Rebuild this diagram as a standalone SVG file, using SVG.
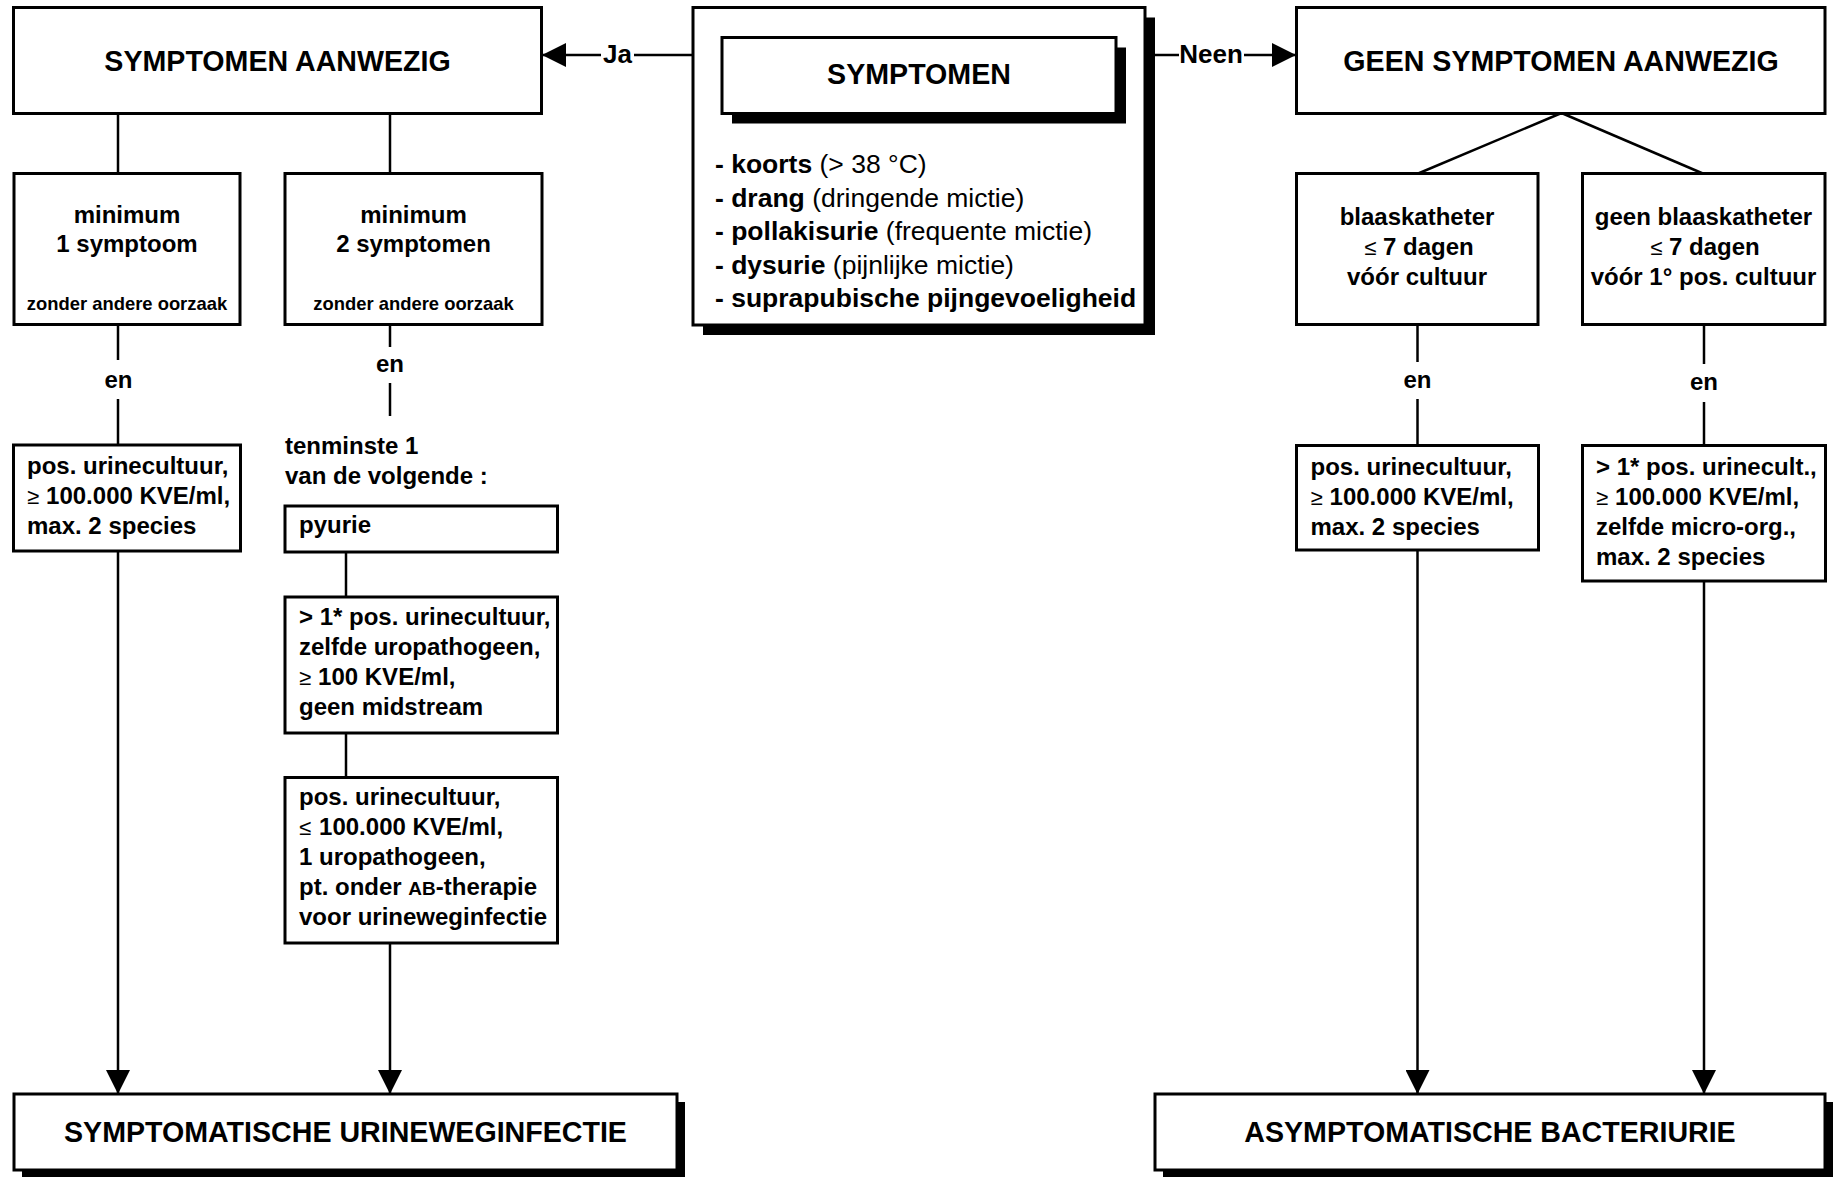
<svg xmlns="http://www.w3.org/2000/svg" width="1835" height="1177" viewBox="0 0 1835 1177">
<style>
.box{fill:#fff;stroke:#000;stroke-width:3}
.sh{fill:#000}
.ln{stroke:#000;stroke-width:2.5;fill:none}
text{font-family:"Liberation Sans",Arial,Helvetica,sans-serif;font-weight:bold;fill:#000}
.title{font-size:28.6px;text-anchor:middle}
.b{font-size:24px}
.c{text-anchor:middle}
.s{font-size:18.4px}
.lst{font-size:26.5px}
.lbl{font-size:26px;text-anchor:middle}
.n{font-weight:normal}
.le{font-weight:normal;font-size:22px}
.sc{font-size:19px}
</style>
<defs>
<marker id="ah" markerUnits="userSpaceOnUse" markerWidth="24" markerHeight="24" refX="24" refY="12" orient="auto" viewBox="0 0 24 24"><path d="M0,0 L24,12 L0,24 z" fill="#000"/></marker>
</defs>
<rect width="1835" height="1177" fill="#fff"/>

<g id="connectors">
<line class="ln" x1="693" y1="55" x2="634" y2="55"/>
<line class="ln" x1="601" y1="55" x2="542" y2="55" marker-end="url(#ah)"/>
<text class="lbl" x="617.5" y="63">Ja</text>
<line class="ln" x1="1150" y1="55" x2="1179" y2="55"/>
<line class="ln" x1="1244" y1="55" x2="1296" y2="55" marker-end="url(#ah)"/>
<text class="lbl" x="1211" y="63">Neen</text>
<line class="ln" x1="118" y1="113" x2="118" y2="174"/>
<line class="ln" x1="390" y1="113" x2="390" y2="174"/>
<line class="ln" x1="1561.5" y1="113" x2="1417" y2="174"/>
<line class="ln" x1="1561.5" y1="113" x2="1704" y2="174"/>
<line class="ln" x1="118" y1="324" x2="118" y2="360"/>
<text class="b c" x="118.5" y="387.5">en</text>
<line class="ln" x1="118" y1="399" x2="118" y2="445"/>
<line class="ln" x1="390" y1="324" x2="390" y2="347"/>
<text class="b c" x="390" y="371.5">en</text>
<line class="ln" x1="390" y1="383" x2="390" y2="416"/>
<line class="ln" x1="346" y1="552" x2="346" y2="597"/>
<line class="ln" x1="346" y1="733" x2="346" y2="778"/>
<line class="ln" x1="1417.5" y1="324" x2="1417.5" y2="362"/>
<text class="b c" x="1417.5" y="388">en</text>
<line class="ln" x1="1417.5" y1="399" x2="1417.5" y2="445"/>
<line class="ln" x1="1704" y1="324" x2="1704" y2="364"/>
<text class="b c" x="1704" y="390">en</text>
<line class="ln" x1="1704" y1="402" x2="1704" y2="445"/>
<line class="ln" x1="118" y1="551" x2="118" y2="1094" marker-end="url(#ah)"/>
<line class="ln" x1="390" y1="943" x2="390" y2="1094" marker-end="url(#ah)"/>
<line class="ln" x1="1417.5" y1="550" x2="1417.5" y2="1094" marker-end="url(#ah)"/>
<line class="ln" x1="1704" y1="581" x2="1704" y2="1094" marker-end="url(#ah)"/>
</g>

<g id="symptomen-aanwezig">
<rect class="box" x="13.5" y="7.5" width="528" height="106"/>
<text class="title" x="277.5" y="70.5">SYMPTOMEN AANWEZIG</text>
</g>

<g id="symptomen">
<rect class="sh" x="703" y="17.5" width="452" height="317.5"/>
<rect class="box" x="693" y="7.5" width="452" height="317.5"/>
<rect class="sh" x="732" y="47.5" width="394" height="76"/>
<rect class="box" x="722" y="37.5" width="394" height="76"/>
<text class="title" x="919" y="84">SYMPTOMEN</text>
<text class="lst" x="715" y="173">- koorts <tspan class="n">(&gt; 38 °C)</tspan></text>
<text class="lst" x="715" y="206.5">- drang <tspan class="n">(dringende mictie)</tspan></text>
<text class="lst" x="715" y="240">- pollakisurie <tspan class="n">(frequente mictie)</tspan></text>
<text class="lst" x="715" y="273.5">- dysurie <tspan class="n">(pijnlijke mictie)</tspan></text>
<text class="lst" x="715" y="307">- suprapubische pijngevoeligheid</text>
</g>

<g id="geen-symptomen-aanwezig">
<rect class="box" x="1296.5" y="7.5" width="528.5" height="106"/>
<text class="title" x="1561" y="70.5">GEEN SYMPTOMEN AANWEZIG</text>
</g>

<g id="minimum-1">
<rect class="box" x="14" y="173.5" width="226" height="151"/>
<text class="b c" x="127" y="222.5">minimum</text>
<text class="b c" x="127" y="251.5">1 symptoom</text>
<text class="s c" x="127" y="310">zonder andere oorzaak</text>
</g>

<g id="minimum-2">
<rect class="box" x="285" y="173.5" width="257" height="151"/>
<text class="b c" x="413.5" y="222.5">minimum</text>
<text class="b c" x="413.5" y="251.5">2 symptomen</text>
<text class="s c" x="413.5" y="310">zonder andere oorzaak</text>
</g>

<g id="blaaskatheter">
<rect class="box" x="1296.5" y="173.5" width="241.5" height="151"/>
<text class="b c" x="1417" y="225">blaaskatheter</text>
<text class="b c" x="1419" y="255"><tspan class="le">≤</tspan> 7 dagen</text>
<text class="b c" x="1417" y="285">vóór cultuur</text>
</g>

<g id="geen-blaaskatheter">
<rect class="box" x="1582.5" y="173.5" width="242.5" height="151"/>
<text class="b c" x="1703.5" y="225">geen blaaskatheter</text>
<text class="b c" x="1705" y="255"><tspan class="le">≤</tspan> 7 dagen</text>
<text class="b c" x="1703.5" y="285">vóór 1° pos. cultuur</text>
</g>

<g id="pos-urinecultuur-links">
<rect class="box" x="13.5" y="445" width="227" height="106"/>
<text class="b" x="27" y="474">pos. urinecultuur,</text>
<text class="b" x="27" y="504"><tspan class="le">≥</tspan><tspan dx="7">100.000 KVE/ml,</tspan></text>
<text class="b" x="27" y="534">max. 2 species</text>
</g>

<g id="tenminste">
<text class="b" x="285" y="453.5">tenminste 1</text>
<text class="b" x="285" y="483.5">van de volgende :</text>
</g>

<g id="pyurie">
<rect class="box" x="285" y="506" width="272.5" height="46"/>
<text class="b" x="299" y="533">pyurie</text>
</g>

<g id="meer-dan-1-pos">
<rect class="box" x="285" y="597" width="272.5" height="136"/>
<text class="b" x="299" y="625">&gt; 1* pos. urinecultuur,</text>
<text class="b" x="299" y="655">zelfde uropathogeen,</text>
<text class="b" x="299" y="685"><tspan class="le">≥</tspan><tspan dx="7">100 KVE/ml,</tspan></text>
<text class="b" x="299" y="715">geen midstream</text>
</g>

<g id="pos-ab-therapie">
<rect class="box" x="285" y="777.5" width="272.5" height="165.5"/>
<text class="b" x="299" y="805">pos. urinecultuur,</text>
<text class="b" x="299" y="835"><tspan class="le">≤</tspan><tspan dx="8">100.000 KVE/ml,</tspan></text>
<text class="b" x="299" y="865">1 uropathogeen,</text>
<text class="b" x="299" y="895">pt. onder <tspan class="sc">AB</tspan>-therapie</text>
<text class="b" x="299" y="925">voor urineweginfectie</text>
</g>

<g id="pos-urinecultuur-rechts">
<rect class="box" x="1296.5" y="445.5" width="242" height="104.5"/>
<text class="b" x="1310.5" y="475">pos. urinecultuur,</text>
<text class="b" x="1310.5" y="505"><tspan class="le">≥</tspan><tspan dx="7">100.000 KVE/ml,</tspan></text>
<text class="b" x="1310.5" y="535">max. 2 species</text>
</g>

<g id="meer-dan-1-urinecult">
<rect class="box" x="1582.5" y="445.5" width="243" height="135.5"/>
<text class="b" x="1596" y="475">&gt; 1* pos. urinecult.,</text>
<text class="b" x="1596" y="505"><tspan class="le">≥</tspan><tspan dx="7">100.000 KVE/ml,</tspan></text>
<text class="b" x="1596" y="535">zelfde micro-org.,</text>
<text class="b" x="1596" y="565">max. 2 species</text>
</g>

<g id="symptomatische-urineweginfectie">
<rect class="sh" x="22" y="1102" width="663" height="76"/>
<rect class="box" x="14" y="1094" width="663" height="76"/>
<text class="title" x="345.5" y="1142">SYMPTOMATISCHE URINEWEGINFECTIE</text>
</g>

<g id="asymptomatische-bacteriurie">
<rect class="sh" x="1163" y="1102" width="670" height="76"/>
<rect class="box" x="1155" y="1094" width="670" height="76"/>
<text class="title" x="1490" y="1142">ASYMPTOMATISCHE BACTERIURIE</text>
</g>
</svg>
